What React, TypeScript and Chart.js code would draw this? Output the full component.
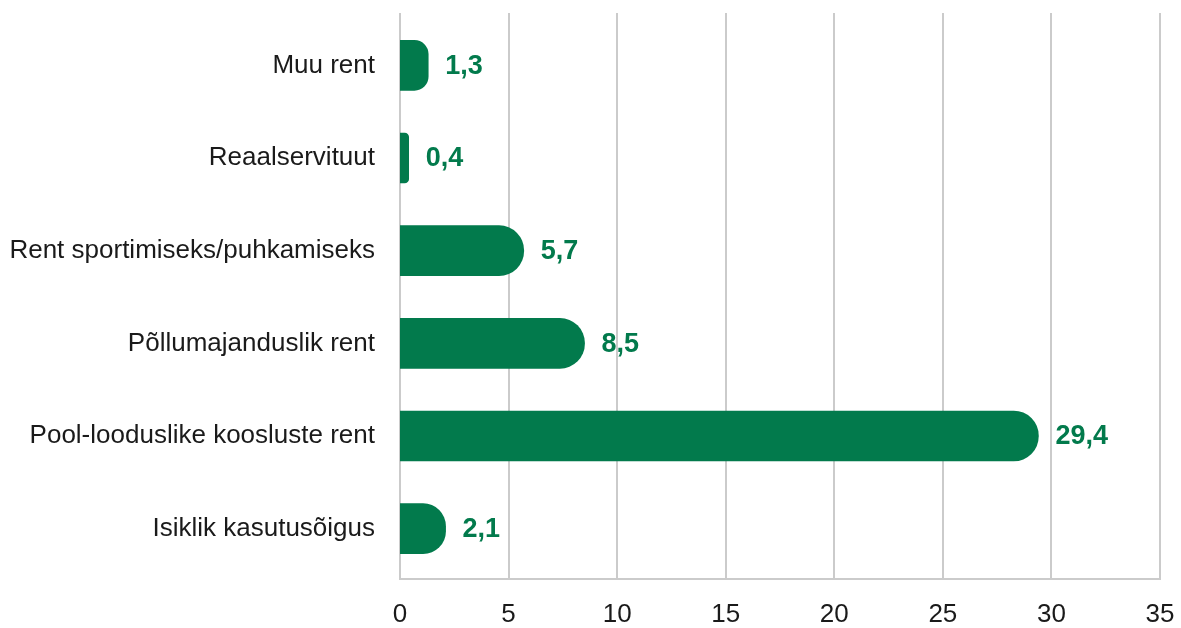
import React, { useEffect, useRef } from "react";
import { Chart, registerables } from "chart.js";

Chart.register(...registerables);

const categories = [
  "Muu rent",
  "Reaalservituut",
  "Rent sportimiseks/puhkamiseks",
  "Põllumajanduslik rent",
  "Pool-looduslike koosluste rent",
  "Isiklik kasutusõigus",
];
const values = [1.3, 0.4, 5.7, 8.5, 29.4, 2.1];
const xTicks = [0, 5, 10, 15, 20, 25, 30, 35];

const GREEN = "#027a4c";
const GRID = "#cbcbcb";
const FONT = "'Liberation Sans', Arial, sans-serif";

const gridPlugin = {
  id: "customGrid",
  beforeDatasetsDraw(chart: any) {
    const { ctx, chartArea, scales } = chart;
    const xs = scales.x;
    const top = chartArea.top - 6;
    const bottom = chartArea.bottom + 4;
    ctx.save();
    ctx.strokeStyle = GRID;
    ctx.lineWidth = 2;
    ctx.beginPath();
    xTicks.forEach((t) => {
      const px = Math.round(xs.getPixelForValue(t));
      ctx.moveTo(px, top);
      ctx.lineTo(px, bottom);
    });
    ctx.moveTo(Math.round(xs.getPixelForValue(xTicks[0])) - 1, bottom);
    ctx.lineTo(Math.round(xs.getPixelForValue(xTicks[xTicks.length - 1])) + 1, bottom);
    ctx.stroke();
    ctx.restore();
  },
};

const labelPlugin = {
  id: "valueLabels",
  afterDatasetsDraw(chart: any) {
    const { ctx } = chart;
    const meta = chart.getDatasetMeta(0);
    ctx.save();
    ctx.fillStyle = GREEN;
    ctx.font = `bold 27px ${FONT}`;
    ctx.textAlign = "left";
    ctx.textBaseline = "middle";
    meta.data.forEach((bar: any, i: number) => {
      const txt = String(values[i]).replace(".", ",");
      ctx.fillText(txt, bar.x + 17, bar.y + 1);
    });
    ctx.restore();
  },
};

export default function App() {
  const ref = useRef<HTMLCanvasElement | null>(null);
  useEffect(() => {
    document.body.style.margin = "0";
    const chart = new Chart(ref.current!, {
      type: "bar",
      data: {
        labels: categories,
        datasets: [
          {
            data: values,
            backgroundColor: GREEN,
            borderRadius: 25,
            borderSkipped: "start",
            barThickness: 50,
          },
        ],
      },
      options: {
        indexAxis: "y",
        animation: false,
        responsive: false,
        layout: { padding: { top: 19, right: 21, left: 0, bottom: 0 } },
        plugins: { legend: { display: false }, tooltip: { enabled: false } },
        scales: {
          x: {
            min: 0,
            max: 35,
            afterFit: (s: any) => {
              s.height = 53;
              s.paddingLeft = 0;
              s.paddingRight = 0;
            },
            afterBuildTicks: (s: any) => {
              s.ticks = xTicks.map((v) => ({ value: v }));
            },
            grid: { display: false, drawTicks: false },
            border: { display: false },
            ticks: {
              padding: 24,
              color: "#1a1a1a",
              font: { family: FONT, size: 26 },
              maxRotation: 0,
            },
          },
          y: {
            afterFit: (s: any) => {
              s.width = 400;
              s.paddingTop = 0;
              s.paddingBottom = 0;
            },
            grid: { display: false, drawTicks: false },
            border: { display: false },
            ticks: {
              padding: 25,
              color: "#1a1a1a",
              font: { family: FONT, size: 26 },
            },
          },
        },
      },
      plugins: [gridPlugin, labelPlugin],
    });
    return () => chart.destroy();
  }, []);
  return (
    <div style={{ position: "relative", width: 1181, height: 628 }}>
      <canvas ref={ref} width={1181} height={628} style={{ display: "block" }} />
    </div>
  );
}
